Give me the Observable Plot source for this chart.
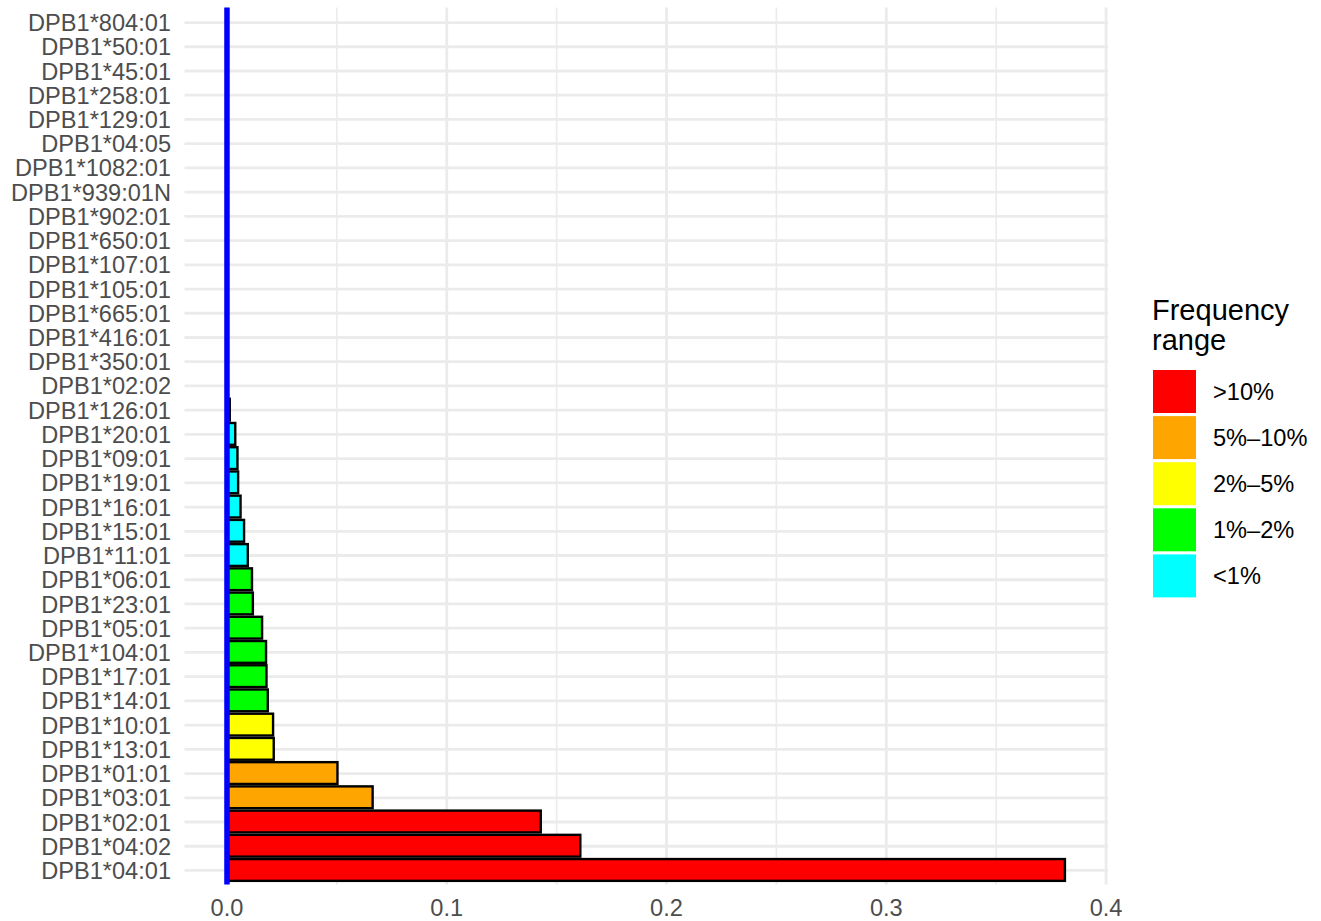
<!DOCTYPE html>
<html>
<head>
<meta charset="utf-8">
<script src="https://cdn.jsdelivr.net/npm/d3@7"></script>
<script src="https://cdn.jsdelivr.net/npm/@observablehq/plot@0.6"></script>
<style>
  body { margin: 0; background: #fff; font-family: "Liberation Sans", Arial, sans-serif; }
  #wrap { position: relative; width: 1321px; height: 921px; }
  #wrap > svg { position: absolute; left: 0; top: 0; }
  #legend { position: absolute; left: 0; top: 0; pointer-events: none; }
</style>
</head>
<body>
<div id="wrap"></div>
<script>
// Alleles, top to bottom as drawn
const alleles = [
  "DPB1*804:01","DPB1*50:01","DPB1*45:01","DPB1*258:01","DPB1*129:01","DPB1*04:05",
  "DPB1*1082:01","DPB1*939:01N","DPB1*902:01","DPB1*650:01","DPB1*107:01","DPB1*105:01",
  "DPB1*665:01","DPB1*416:01","DPB1*350:01","DPB1*02:02","DPB1*126:01","DPB1*20:01",
  "DPB1*09:01","DPB1*19:01","DPB1*16:01","DPB1*15:01","DPB1*11:01","DPB1*06:01",
  "DPB1*23:01","DPB1*05:01","DPB1*104:01","DPB1*17:01","DPB1*14:01","DPB1*10:01",
  "DPB1*13:01","DPB1*01:01","DPB1*03:01","DPB1*02:01","DPB1*04:02","DPB1*04:01"
];
const freqs = [
  0.0001, 0.0001, 0.0001, 0.0001, 0.0001, 0.0002,
  0.0002, 0.0002, 0.0002, 0.0002, 0.0002, 0.0003,
  0.0005, 0.0005, 0.0005, 0.0006, 0.0015, 0.0040,
  0.0050, 0.0053, 0.0064, 0.0080, 0.0097, 0.0116,
  0.0120, 0.0162, 0.0180, 0.0182, 0.0188, 0.0212,
  0.0215, 0.0505, 0.0665, 0.1430, 0.1610, 0.3815
];
const ranges = [
  "<1%","<1%","<1%","<1%","<1%","<1%",
  "<1%","<1%","<1%","<1%","<1%","<1%",
  "<1%","<1%","<1%","<1%","<1%","<1%",
  "<1%","<1%","<1%","<1%","<1%","1%\u20132%",
  "1%\u20132%","1%\u20132%","1%\u20132%","1%\u20132%","1%\u20132%","2%\u20135%",
  "2%\u20135%","5%\u201310%","5%\u201310%",">10%",">10%",">10%"
];
const rangeLabels = [">10%", "5%\u201310%", "2%\u20135%", "1%\u20132%", "<1%"];
const rangeColors = ["#FF0000", "#FFA500", "#FFFF00", "#00FF00", "#00FFFF"];
const xTicks = [0, 0.1, 0.2, 0.3, 0.4];
const xMinorTicks = [0.05, 0.15, 0.25, 0.35];
const legendTitle = ["Frequency", "range"];

const data = alleles.map((a, i) => ({allele: a, freq: freqs[i], range: ranges[i]}));
const FONT = '"Liberation Sans", Arial, sans-serif';

const chart = Plot.plot({
  width: 1321,
  height: 921,
  marginLeft: 184.5,
  marginRight: 213,
  marginTop: 7.5,
  marginBottom: 36.5,
  style: {fontFamily: FONT, fontSize: "23.6px", background: "white", color: "#4d4d4d"},
  x: {domain: [-0.0191, 0.4011], label: null},
  y: {domain: alleles, paddingInner: 0.1, paddingOuter: 0.15, round: false, label: null},
  color: {domain: rangeLabels, range: rangeColors},
  marks: [
    Plot.gridX(xMinorTicks, {stroke: "#ebebeb", strokeOpacity: 1, strokeWidth: 1.6}),
    Plot.gridX(xTicks, {stroke: "#ebebeb", strokeOpacity: 1, strokeWidth: 2.8}),
    Plot.gridY({stroke: "#ebebeb", strokeOpacity: 1, strokeWidth: 2.8}),
    Plot.barX(data, {y: "allele", x: "freq", fill: "range", stroke: "black", strokeWidth: 2.4}),
    Plot.ruleX([0], {stroke: "#0000FF", strokeWidth: 5.5}),
    Plot.axisX(xTicks, {tickSize: 0, tickPadding: 14, tickFormat: d3.format(".1f"), fill: "#4d4d4d", fontSize: 23.6, label: null}),
    Plot.axisY({tickSize: 0, tickPadding: 14, dy: 1, fill: "#4d4d4d", fontSize: 23.6, label: null})
  ]
});
document.getElementById("wrap").appendChild(chart);

// Legend overlay
const ns = "http://www.w3.org/2000/svg";
const lg = document.createElementNS(ns, "svg");
lg.setAttribute("id", "legend");
lg.setAttribute("width", 1321);
lg.setAttribute("height", 921);
lg.style.fontFamily = FONT;
document.getElementById("wrap").appendChild(lg);
legendTitle.forEach((t, i) => {
  const el = document.createElementNS(ns, "text");
  el.setAttribute("x", 1152);
  el.setAttribute("y", 319.5 + i * 30);
  el.setAttribute("font-size", 29);
  el.setAttribute("fill", "black");
  el.textContent = t;
  lg.appendChild(el);
});
rangeLabels.forEach((lab, i) => {
  const top = 370 + i * 46.1;
  const r = document.createElementNS(ns, "rect");
  r.setAttribute("x", 1153);
  r.setAttribute("y", top);
  r.setAttribute("width", 43);
  r.setAttribute("height", 43);
  r.setAttribute("fill", rangeColors[i]);
  lg.appendChild(r);
  const tx = document.createElementNS(ns, "text");
  tx.setAttribute("x", 1213);
  tx.setAttribute("y", top + 21.5 + 8.4);
  tx.setAttribute("font-size", 23.6);
  tx.setAttribute("fill", "black");
  tx.textContent = lab;
  lg.appendChild(tx);
});
</script>
</body>
</html>
